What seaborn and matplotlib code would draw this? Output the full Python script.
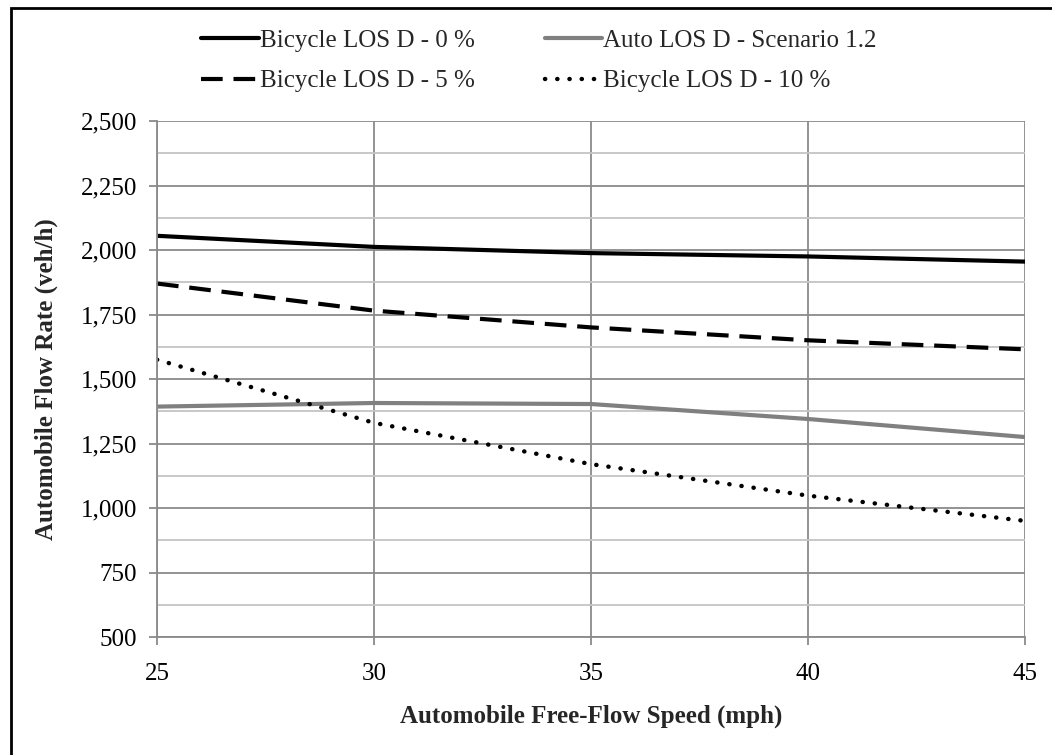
import matplotlib
matplotlib.use("Agg")
import matplotlib.pyplot as plt
import seaborn as sns
import pandas as pd
from matplotlib.patches import Rectangle
from matplotlib.ticker import MultipleLocator, FuncFormatter

speed = [25, 30, 35, 40, 45]
bike_0 = [2055, 2012, 1988, 1975, 1955]
bike_5 = [1870, 1765, 1700, 1650, 1615]
auto_12 = [1393, 1407, 1403, 1345, 1275]
bike_10 = [1575, 1330, 1170, 1048, 950]

labels = ["Bicycle LOS D - 0 %", "Bicycle LOS D - 5 %",
          "Auto LOS D - Scenario 1.2", "Bicycle LOS D - 10 %"]
series = [bike_0, bike_5, auto_12, bike_10]

sns.set_style("white")
plt.rcParams['font.family'] = ['Liberation Serif', 'DejaVu Serif']

FS = 18

fig = plt.figure(figsize=(10.52, 7.55), dpi=100)
ax = fig.add_axes([157/1052, 1-637/755, (1025-157)/1052, (637-121)/755])

styles = [
    dict(color="black", lw=3.0, ls="-"),
    dict(color="black", lw=3.0, ls=(0, (5.2, 2.6))),
    dict(color="#808080", lw=3.0, ls="-"),
    dict(color="black", lw=3.2, ls=(0, (0.05, 2.7)), dash_capstyle="round"),
]
for vals, lab, st in zip(series, labels, styles):
    df = pd.DataFrame({"x": speed, "y": vals})
    sns.lineplot(data=df, x="x", y="y", ax=ax, label=lab, **st)

ax.set_xlim(25, 45)
ax.set_ylim(500, 2500)
ax.xaxis.set_major_locator(MultipleLocator(5))
ax.yaxis.set_major_locator(MultipleLocator(250))
ax.yaxis.set_minor_locator(MultipleLocator(125))
ax.yaxis.set_major_formatter(FuncFormatter(lambda v, p: f"{int(v):,}"))

ax.grid(True, which="major", axis="both", color="#8a8a8a", lw=1.3)
ax.grid(True, which="minor", axis="y", color="#c4c4c4", lw=1.3)
ax.set_axisbelow(True)

for s in ["top", "right"]:
    ax.spines[s].set_visible(False)
for s in ["left", "bottom"]:
    ax.spines[s].set_color("#8a8a8a")
    ax.spines[s].set_linewidth(1.3)

ax.tick_params(axis="both", which="major", direction="out", length=5.5, width=1.3,
               color="#8a8a8a", labelsize=FS, labelcolor="black",
               left=True, bottom=True)
ax.tick_params(axis="x", pad=13)
ax.tick_params(axis="y", pad=9)
ax.tick_params(which="minor", length=0)

ax.set_xlabel("Automobile Free-Flow Speed (mph)", fontsize=FS, fontweight="bold", labelpad=14)
ax.set_ylabel("Automobile Flow Rate (veh/h)", fontsize=FS, fontweight="bold", labelpad=16)

leg = ax.legend(loc="center left", bbox_to_anchor=(201/1052, 1 - 61/755),
                bbox_transform=fig.transFigure, ncol=2,
                frameon=False, fontsize=FS, handlelength=2.3, handletextpad=0.05,
                columnspacing=2.8, labelspacing=0.72, borderpad=0, borderaxespad=0)

fig.patches.append(Rectangle((10.5/1052, -0.05), 1.1, 1 - 7.5/755 + 0.05,
                             transform=fig.transFigure, fill=False,
                             edgecolor="black", lw=2.0))

fig.savefig("out.png", dpi=100)
